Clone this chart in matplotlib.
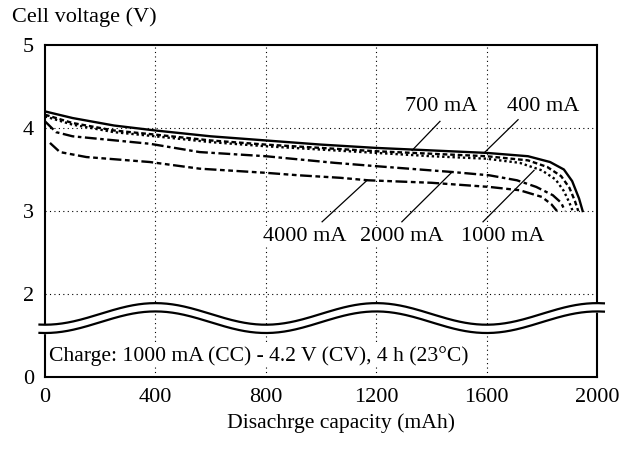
import numpy as np
import matplotlib
matplotlib.use("Agg")
import matplotlib.pyplot as plt

plt.rcParams['font.family'] = ['Liberation Serif', 'DejaVu Serif']

# discharge curves (mAh, V)
cap_400 = [0, 100, 250, 400, 600, 800, 1000, 1200, 1400, 1600, 1750, 1830, 1880, 1910, 1935, 1948]
v_400 = [4.20, 4.12, 4.03, 3.97, 3.90, 3.85, 3.80, 3.76, 3.73, 3.70, 3.66, 3.59, 3.50, 3.36, 3.15, 3.00]

cap_700 = [0, 100, 250, 400, 600, 800, 1000, 1200, 1400, 1600, 1750, 1820, 1870, 1900, 1920, 1932]
v_700 = [4.16, 4.06, 3.97, 3.92, 3.85, 3.80, 3.76, 3.72, 3.69, 3.66, 3.61, 3.53, 3.42, 3.28, 3.12, 3.00]

cap_1000 = [0, 100, 250, 400, 600, 800, 1000, 1200, 1400, 1600, 1720, 1800, 1850, 1880, 1900, 1912]
v_1000 = [4.14, 4.04, 3.95, 3.90, 3.83, 3.78, 3.74, 3.70, 3.66, 3.63, 3.58, 3.49, 3.38, 3.24, 3.10, 3.00]

cap_2000 = [0, 40, 100, 380, 560, 800, 1050, 1200, 1475, 1610, 1710, 1780, 1840, 1870, 1884]
v_2000 = [4.08, 3.95, 3.90, 3.81, 3.71, 3.66, 3.58, 3.54, 3.47, 3.43, 3.37, 3.29, 3.19, 3.10, 3.00]

cap_4000 = [18, 54, 150, 380, 560, 800, 920, 1070, 1170, 1400, 1610, 1720, 1800, 1835, 1855]
v_4000 = [3.82, 3.71, 3.65, 3.59, 3.51, 3.46, 3.43, 3.40, 3.37, 3.34, 3.29, 3.25, 3.17, 3.08, 3.00]

x_ticks = [0, 400, 800, 1200, 1600, 2000]
y_ticks = [1, 2, 3, 4, 5]
y_ticklabels = ['0', '2', '3', '4', '5']   # axis is broken below 2 V

fig = plt.figure(figsize=(6.34, 4.49), dpi=100)
ax = fig.add_axes([45/634, 1-377/449, 552/634, 332/449])

ax.set_xlim(0, 2000)
ax.set_ylim(1, 5)

# grid
for gx in [400, 800, 1200, 1600]:
    ax.axvline(gx, color='k', lw=0.8, ls=(0, (1, 3)), zorder=1)
for gy in [2, 3, 4]:
    ax.axhline(gy, color='k', lw=0.8, ls=(0, (1, 3)), zorder=1)

lw = 1.7
ax.plot(cap_400, v_400, color='k', lw=lw, ls='-', zorder=3)
ax.plot(cap_700, v_700, color='k', lw=lw, ls=(0, (2, 1.2)), zorder=3)
ax.plot(cap_1000, v_1000, color='k', lw=lw, ls=(0, (1, 1.2)), zorder=3)
ax.plot(cap_2000, v_2000, color='k', lw=lw, ls=(0, (5, 1.5, 1.5, 1.5)), zorder=3)
ax.plot(cap_4000, v_4000, color='k', lw=lw, ls=(0, (5, 1.5, 2, 1.5, 2, 1.5)), zorder=3)

# labels with leader lines
fs = 16
bb = dict(boxstyle='square,pad=0.05', fc='white', ec='none')
lbl = [('700 mA', (1435, 4.26), (1431, 4.08), (1330, 3.73)),
       ('400 mA', (1804, 4.26), (1714, 4.10), (1594, 3.71)),
       ('4000 mA', (942, 2.69), (1004, 2.87), (1167, 3.37)),
       ('2000 mA', (1293, 2.69), (1293, 2.87), (1475, 3.47)),
       ('1000 mA', (1659, 2.69), (1587, 2.87), (1772, 3.49))]
for txt, tp, p0, p1 in lbl:
    ax.plot([p0[0], p1[0]], [p0[1], p1[1]], color='k', lw=0.9, zorder=4)
    ax.text(tp[0], tp[1], txt, ha='center', va='center', fontsize=fs,
            bbox=bb, zorder=5)

ax.text(14, 1.25, 'Charge: 1000 mA (CC) - 4.2 V (CV), 4 h (23\u00b0C)',
        ha='left', va='center', fontsize=15.6, bbox=bb, zorder=5)

# break marker (wavy double line)
wx = np.linspace(-20, 2025, 400)
wy = 1.76 - 0.13 * np.cos(2 * np.pi * wx / 800)
ax.fill_between(wx, wy, wy - 0.1, color='white', zorder=6, clip_on=False)
ax.plot(wx, wy, color='k', lw=1.6, zorder=7, clip_on=False)
ax.plot(wx, wy - 0.1, color='k', lw=1.6, zorder=7, clip_on=False)

ax.set_xticks(x_ticks)
ax.set_yticks(y_ticks)
ax.set_yticklabels(y_ticklabels)
ax.tick_params(length=0, labelsize=fs, pad=8)
for s in ax.spines.values():
    s.set_linewidth(1.5)

fig.text(12/634, 1-17/449, 'Cell voltage (V)', ha='left', va='center', fontsize=fs)
fig.text(341/634, 1-423/449, 'Disachrge capacity (mAh)', ha='center', va='center', fontsize=15.6)

fig.savefig('out.png', dpi=100)
